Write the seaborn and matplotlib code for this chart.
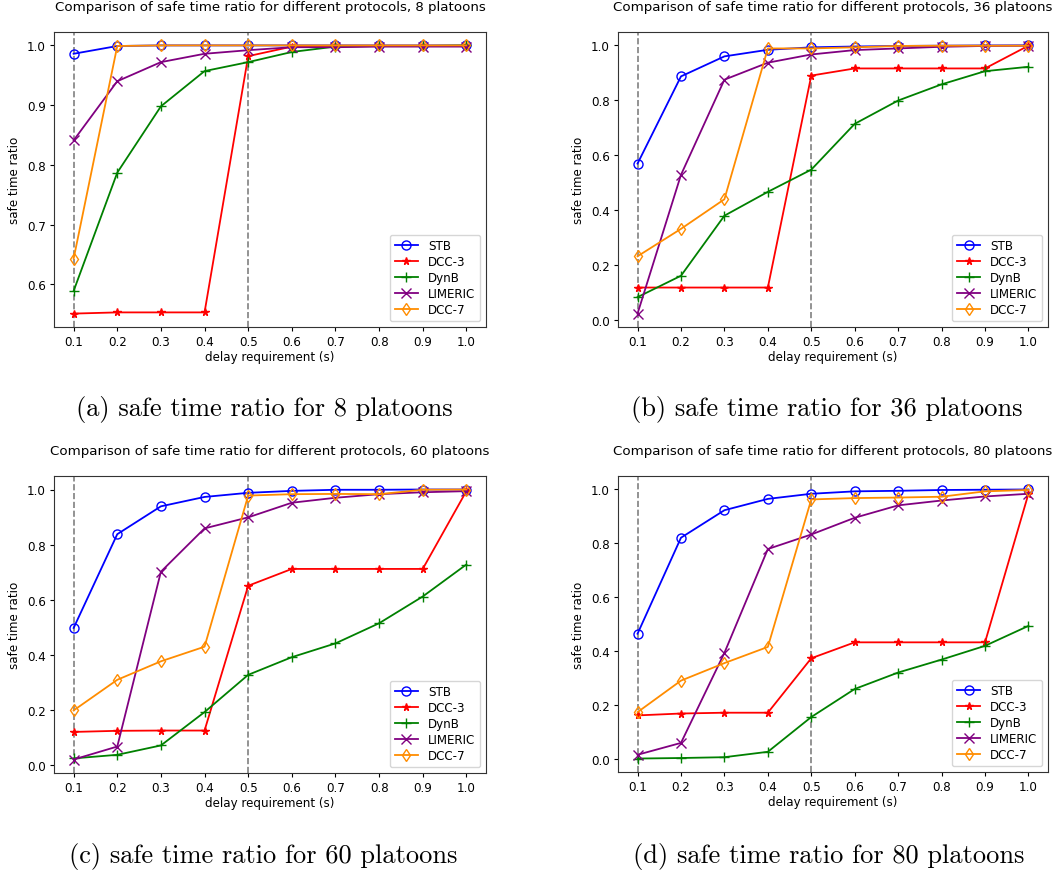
import matplotlib
matplotlib.use("Agg")
import matplotlib.pyplot as plt
import seaborn as sns
import numpy as np

delay = [0.1, 0.2, 0.3, 0.4, 0.5, 0.6, 0.7, 0.8, 0.9, 1.0]
protocols = ["STB", "DCC-3", "DynB", "LIMERIC", "DCC-7"]
platoons = [8, 36, 60, 80]
panel_letters = ["a", "b", "c", "d"]

# 8 platoons
stb_8 = [0.986, 0.999, 1.0, 1.0, 1.0, 1.0, 1.0, 1.0, 1.0, 1.0]
dcc3_8 = [0.551, 0.553, 0.553, 0.553, 0.982, 0.998, 0.999, 0.999, 0.999, 0.999]
dynb_8 = [0.589, 0.787, 0.898, 0.957, 0.972, 0.989, 0.998, 0.999, 0.999, 1.0]
limeric_8 = [0.841, 0.940, 0.972, 0.986, 0.992, 0.997, 0.997, 0.998, 0.998, 0.998]
dcc7_8 = [0.643, 0.999, 1.0, 1.0, 1.0, 1.0, 1.0, 1.0, 1.0, 1.0]

# 36 platoons
stb_36 = [0.569, 0.887, 0.960, 0.984, 0.993, 0.996, 0.998, 0.999, 1.0, 1.0]
dcc3_36 = [0.117, 0.117, 0.117, 0.117, 0.890, 0.916, 0.916, 0.916, 0.916, 0.999]
dynb_36 = [0.082, 0.160, 0.379, 0.466, 0.547, 0.714, 0.799, 0.858, 0.906, 0.922]
limeric_36 = [0.022, 0.528, 0.875, 0.937, 0.967, 0.983, 0.989, 0.995, 0.998, 0.999]
dcc7_36 = [0.231, 0.331, 0.439, 0.989, 0.989, 0.993, 0.998, 0.999, 0.999, 0.999]

# 60 platoons
stb_60 = [0.498, 0.838, 0.939, 0.973, 0.988, 0.995, 0.999, 0.999, 1.0, 1.0]
dcc3_60 = [0.121, 0.125, 0.126, 0.126, 0.651, 0.712, 0.712, 0.712, 0.712, 0.994]
dynb_60 = [0.025, 0.038, 0.072, 0.193, 0.328, 0.392, 0.442, 0.515, 0.612, 0.728]
limeric_60 = [0.021, 0.068, 0.702, 0.859, 0.899, 0.952, 0.970, 0.983, 0.990, 0.994]
dcc7_60 = [0.199, 0.310, 0.377, 0.430, 0.978, 0.983, 0.984, 0.983, 0.999, 1.0]

# 80 platoons
stb_80 = [0.465, 0.821, 0.923, 0.965, 0.984, 0.993, 0.995, 0.998, 0.999, 1.0]
dcc3_80 = [0.162, 0.169, 0.172, 0.172, 0.374, 0.433, 0.433, 0.433, 0.433, 0.984]
dynb_80 = [0.002, 0.004, 0.007, 0.027, 0.156, 0.260, 0.321, 0.369, 0.420, 0.494]
limeric_80 = [0.016, 0.060, 0.394, 0.779, 0.833, 0.895, 0.941, 0.959, 0.974, 0.984]
dcc7_80 = [0.174, 0.291, 0.356, 0.416, 0.963, 0.968, 0.970, 0.973, 0.993, 0.998]

data = [
    [stb_8, dcc3_8, dynb_8, limeric_8, dcc7_8],
    [stb_36, dcc3_36, dynb_36, limeric_36, dcc7_36],
    [stb_60, dcc3_60, dynb_60, limeric_60, dcc7_60],
    [stb_80, dcc3_80, dynb_80, limeric_80, dcc7_80],
]

colors = ["blue", "red", "green", "purple", "darkorange"]
markers = ["o", "*", "+", "x", "d"]
open_marker = [True, False, False, False, True]

W, H = 1054, 878
fig = plt.figure(figsize=(W / 100, H / 100), dpi=100)

# axes boxes in pixels: left, top, right, bottom
boxes = [(54, 33, 486, 328), (618, 33, 1048, 328),
         (54, 477, 486, 774), (618, 477, 1048, 773)]
caption_pos = [(264, 410), (827, 410), (263, 857), (829, 857)]

fs = 8.6
for i, (l, t, r, b) in enumerate(boxes):
    ax = fig.add_axes([l / W, 1 - b / H, (r - l) / W, (b - t) / H])
    for k, name in enumerate(protocols):
        kw = dict(markerfacecolor="none") if open_marker[k] else {}
        sns.lineplot(x=delay, y=data[i][k], ax=ax, color=colors[k], marker=markers[k],
                     markersize=6.5 if markers[k] != "*" else 5.5, linewidth=1.3,
                     markeredgewidth=1.0, markeredgecolor=colors[k], label=name, **kw)
    ax.axvline(0.1, color="gray", linestyle="--", linewidth=1.2, zorder=0)
    ax.axvline(0.5, color="gray", linestyle="--", linewidth=1.2, zorder=0)
    ax.set_xticks(delay)
    ax.set_xticklabels([f"{d:.1f}" for d in delay])
    ax.tick_params(labelsize=fs, length=3, width=0.8, pad=3)
    ax.set_xlabel("delay requirement (s)", fontsize=fs, labelpad=1)
    ax.set_ylabel("safe time ratio", fontsize=fs, labelpad=4)
    ax.set_title(f"Comparison of safe time ratio for different protocols, {platoons[i]} platoons",
                 fontsize=9.6, pad=16)
    for sp in ax.spines.values():
        sp.set_linewidth(0.8)
        sp.set_color("#333333")
    ax.legend(loc="lower right", fontsize=fs, handlelength=2.0, borderpad=0.4,
              labelspacing=0.25, framealpha=0.8)
    cx, cy = caption_pos[i]
    fig.text(cx / W, 1 - cy / H,
             f"({panel_letters[i]}) safe time ratio for {platoons[i]} platoons",
             ha="center", va="center", fontsize=19, family="cmr10")

fig.savefig("out.png", dpi=100)
